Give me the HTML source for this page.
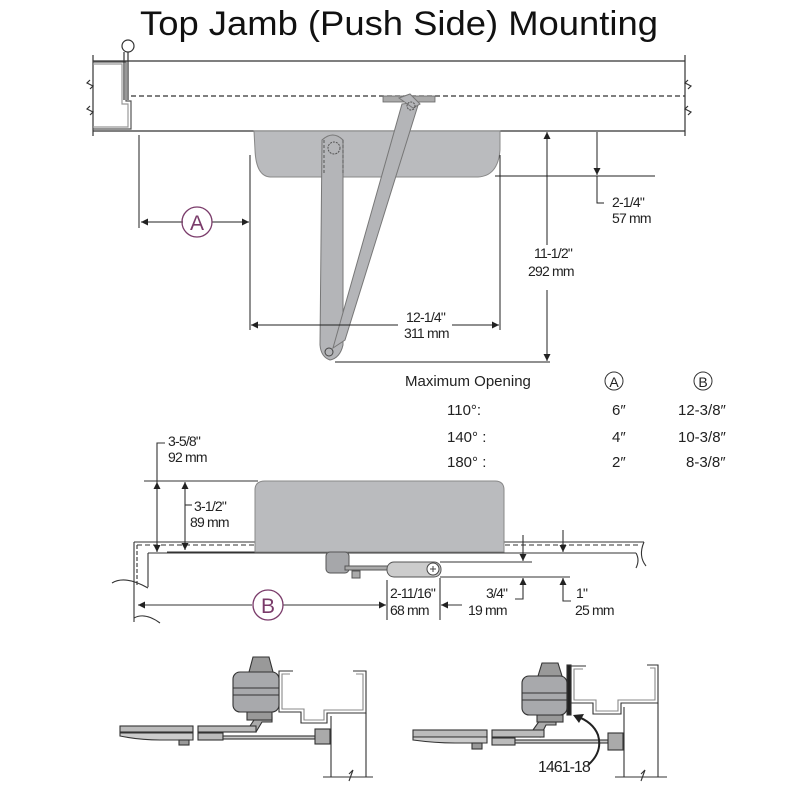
<!DOCTYPE html>
<html><head><meta charset="utf-8"><style>
html,body{margin:0;padding:0;background:#fff}
svg{display:block}
text{font-family:"Liberation Sans",sans-serif;fill:#222}
.d{font-size:14px;letter-spacing:-0.8px}
</style></head><body>
<svg width="800" height="800" viewBox="0 0 800 800" xmlns="http://www.w3.org/2000/svg">
<defs>
<marker id="ar" viewBox="0 0 10 10" refX="10" refY="5" markerWidth="10" markerHeight="7" orient="auto-start-reverse" markerUnits="userSpaceOnUse"><path d="M0,0 L10,5 L0,10 z" fill="#222"/></marker>
</defs>
<text x="140" y="35" font-size="34" textLength="518" lengthAdjust="spacingAndGlyphs" style="fill:#111">Top Jamb (Push Side) Mounting</text>

<!-- TOP VIEW frame -->
<g stroke="#333" stroke-width="1.2" fill="none">
<line x1="93" y1="61" x2="685" y2="61"/>
<line x1="93" y1="131" x2="685" y2="131"/>
<line x1="93" y1="55" x2="93" y2="136"/>
<line x1="685" y1="55" x2="685" y2="136"/>
<path d="M93,62 H126 V101 H131 V129 H93" stroke="#555"/>
<path d="M93,64 H122 V104 H128 V127 H93" stroke="#999"/>
<line x1="124" y1="52" x2="124" y2="100"/>
<line x1="128" y1="52" x2="128" y2="100"/>
<circle cx="128" cy="46" r="6" fill="#fff"/>
<line x1="131" y1="96" x2="685" y2="96" stroke-dasharray="5,3"/>
<path d="M90,80 l-3,3 l6,3 l-3,3" /><path d="M90,106 l-3,3 l6,3 l-3,3"/>
<path d="M688,80 l-3,3 l6,3 l-3,3" /><path d="M688,106 l-3,3 l6,3 l-3,3"/>
</g>
<!-- closer body -->
<path d="M254,131 H500 V150 Q498,176 478,177 H270 Q256,176 255,150 Z" fill="#babbbe" stroke="#888"/>
<rect x="383" y="96" width="52" height="6" fill="#aaa" stroke="#666" stroke-width="0.8"/>
<!-- arms -->
<path d="M322,140 Q333,130 343,140 V345 Q340,358 330,360 Q321,357 320,345 Z" fill="#b4b5b8" stroke="#777"/>
<path d="M402,104 L419,102 L345,340 L333,348 Z" fill="#b4b5b8" stroke="#777"/>
<path d="M399,98 L410,94 L420,104 L413,108 Z" fill="#b4b5b8" stroke="#777"/>
<circle cx="411" cy="106" r="4" fill="none" stroke="#555" stroke-dasharray="2,1"/>
<circle cx="334" cy="148" r="6" fill="none" stroke="#555" stroke-dasharray="2,1"/>
<line x1="324" y1="140" x2="324" y2="175" stroke="#555" stroke-dasharray="3,2"/>
<line x1="343" y1="140" x2="343" y2="175" stroke="#555" stroke-dasharray="3,2"/>
<circle cx="329" cy="352" r="4" fill="none" stroke="#444"/>
<!-- dims top -->
<g stroke="#222" stroke-width="1" fill="none">
<line x1="139" y1="135" x2="139" y2="228"/>
<line x1="250" y1="155" x2="250" y2="330"/>
<line x1="500" y1="155" x2="500" y2="330"/>
<line x1="141" y1="222" x2="183" y2="222" marker-start="url(#ar)"/>
<line x1="212" y1="222" x2="249" y2="222" marker-end="url(#ar)"/>
<line x1="251" y1="325" x2="398" y2="325" marker-start="url(#ar)"/>
<line x1="452" y1="325" x2="499" y2="325" marker-end="url(#ar)"/>
<line x1="547" y1="132" x2="547" y2="245" marker-start="url(#ar)"/>
<line x1="547" y1="290" x2="547" y2="361" marker-end="url(#ar)"/>
<line x1="335" y1="362" x2="550" y2="362"/>
<line x1="597" y1="132" x2="597" y2="175" marker-end="url(#ar)"/>
<line x1="495" y1="176" x2="655" y2="176"/>
<path d="M597,176 V203 H604"/>
</g>
<circle cx="197" cy="222" r="15" fill="none" stroke="#7a3b6a" stroke-width="1.3"/>
<text x="197" y="230" font-size="21" text-anchor="middle" style="fill:#7a3b6a">A</text>
<text class="d" x="406" y="322">12-1/4"</text><text class="d" x="404" y="338">311 mm</text>
<text class="d" x="534" y="258">11-1/2"</text><text class="d" x="528" y="276">292 mm</text>
<text class="d" x="612" y="207">2-1/4"</text><text class="d" x="612" y="223">57 mm</text>

<!-- table -->
<g font-size="15">
<text x="405" y="386">Maximum Opening</text>
<text x="447" y="415">110°:</text><text x="447" y="442">140° :</text><text x="447" y="467">180° :</text>
<text x="612" y="415">6″</text><text x="612" y="442">4″</text><text x="612" y="467">2″</text>
<text x="678" y="415">12-3/8″</text><text x="678" y="442">10-3/8″</text><text x="686" y="467">8-3/8″</text>
</g>
<circle cx="614" cy="381" r="9" fill="none" stroke="#333"/><text x="614" y="387" font-size="14" text-anchor="middle">A</text>
<circle cx="703" cy="381" r="9" fill="none" stroke="#333"/><text x="703" y="387" font-size="14" text-anchor="middle">B</text>

<!-- MIDDLE VIEW -->
<g stroke="#333" stroke-width="1.1" fill="none">
<path d="M134,542 H644"/>
<path d="M148,553 H636"/>
<line x1="137" y1="545" x2="640" y2="545" stroke-dasharray="5,3"/>
<path d="M134,542 V622"/><path d="M148,553 V587"/><path d="M137,545 V587" stroke-dasharray="4,2"/>
<path d="M644,542 Q638,556 646,566"/><path d="M636,553 Q640,560 636,568"/>
<path d="M112,583 Q125,575 148,588"/><path d="M134,618 Q145,612 160,623"/>
<path d="M144,481 H258"/>
<line x1="157" y1="482" x2="157" y2="552" marker-start="url(#ar)" marker-end="url(#ar)"/>
<line x1="185" y1="482" x2="185" y2="550" marker-start="url(#ar)" marker-end="url(#ar)"/>
<path d="M157,482 V443 H165"/><path d="M185,505 H192"/>
<path d="M167,552 H255"/>
<line x1="138" y1="605" x2="252" y2="605" marker-start="url(#ar)"/>
<line x1="283" y1="605" x2="386" y2="605" marker-end="url(#ar)"/>
<line x1="387" y1="580" x2="387" y2="620"/><line x1="440" y1="578" x2="440" y2="620"/>
<line x1="462" y1="605" x2="441" y2="605" marker-end="url(#ar)"/>
<line x1="440" y1="562" x2="532" y2="562"/>
<line x1="440" y1="577" x2="570" y2="577"/>
<line x1="523" y1="535" x2="523" y2="561" marker-end="url(#ar)"/>
<line x1="523" y1="596" x2="523" y2="578" marker-end="url(#ar)"/>
<path d="M523,596 V599 H515"/>
<line x1="563" y1="530" x2="563" y2="552" marker-end="url(#ar)"/>
<line x1="563" y1="597" x2="563" y2="578" marker-end="url(#ar)"/>
<path d="M563,597 V601 H571"/>
</g>
<path d="M255,552 V490 Q255,481 265,481 H495 Q504,481 504,490 V552 Z" fill="#babbbe" stroke="#888"/>
<rect x="326" y="552" width="23" height="21" rx="4" fill="#a6a7aa" stroke="#555"/>
<rect x="345" y="566" width="50" height="4" fill="#aaa" stroke="#555"/>
<rect x="352" y="571" width="8" height="7" fill="#aaa" stroke="#555"/>
<rect x="387" y="562" width="54" height="15" rx="7" fill="#ccc" stroke="#555"/>
<circle cx="433" cy="569" r="6" fill="#fff" stroke="#444"/>
<path d="M430,569 h6 M433,566 v6" stroke="#444"/>
<circle cx="268" cy="605" r="15" fill="none" stroke="#7a3b6a" stroke-width="1.3"/>
<text x="268" y="613" font-size="21" text-anchor="middle" style="fill:#7a3b6a">B</text>
<text class="d" x="168" y="446">3-5/8"</text><text class="d" x="168" y="462">92 mm</text>
<text class="d" x="194" y="511">3-1/2"</text><text class="d" x="190" y="527">89 mm</text>
<text class="d" x="390" y="598">2-11/16"</text><text class="d" x="390" y="615">68 mm</text>
<text class="d" x="486" y="598">3/4"</text><text class="d" x="468" y="615">19 mm</text>
<text class="d" x="576" y="598">1"</text><text class="d" x="575" y="615">25 mm</text>

<!-- BOTTOM LEFT -->
<g stroke="#333" stroke-width="1.1">
<path d="M293,671 H279 V712 H301 V723 H327 V713 H366 V671 H353" fill="none"/>
<path d="M290,674 H282 V709 H304 V720 H324 V710 H363 V674 H356" fill="none" stroke="#888"/>
<path d="M331,716 V777 M366,713 V777" fill="none"/>
<path d="M323,777 H373" fill="none"/><path d="M349,774 l4,-4 -4,11" fill="none"/>
<path d="M250,726 L256,717 H272 V722 H262 L256,732 Z" fill="#aaa"/>
<rect x="247" y="712" width="25" height="8" fill="#999"/>
<rect x="233" y="672" width="46" height="40" rx="7" fill="#a8a9ac"/>
<path d="M249,672 L253,657 H269 L273,672 Z" fill="#999"/>
<line x1="233" y1="688" x2="279" y2="688"/><line x1="233" y1="695" x2="279" y2="695"/>
<rect x="120" y="726" width="73" height="6" fill="#bbb"/><rect x="198" y="726" width="58" height="6" fill="#bbb"/>
<path d="M120,733 H193 V740 H160 Q140,740 120,736 Z" fill="#ccc"/>
<rect x="198" y="733" width="25" height="7" fill="#bbb"/>
<rect x="223" y="736" width="92" height="3" fill="#ccc"/>
<rect x="315" y="729" width="15" height="15" fill="#aaa"/>
<rect x="179" y="740" width="10" height="5" fill="#999"/>
</g>
<!-- BOTTOM RIGHT -->
<g stroke="#333" stroke-width="1.1">
<path d="M586,666 H571 V703 H593 V714 H621 V703 H658 V665 H647" fill="none"/>
<path d="M583,669 H574 V700 H596 V711 H618 V700 H655 V668 H650" fill="none" stroke="#888"/>
<path d="M624,707 V777 M658,703 V777" fill="none"/>
<path d="M615,777 H667" fill="none"/><path d="M641,774 l4,-4 -4,11" fill="none"/>
<path d="M533,730 L540,720 H556 V725 H546 L540,737 Z" fill="#aaa"/>
<rect x="537" y="715" width="26" height="7" fill="#999"/>
<rect x="522" y="676" width="45" height="39" rx="7" fill="#a8a9ac"/>
<path d="M538,676 L542,663 H558 L562,676 Z" fill="#999"/>
<line x1="522" y1="693" x2="567" y2="693"/><line x1="522" y1="700" x2="567" y2="700"/>
<rect x="567" y="665" width="4" height="50" fill="#222"/>
<rect x="413" y="730" width="74" height="7" fill="#bbb"/><rect x="492" y="730" width="52" height="7" fill="#bbb"/>
<path d="M413,737 H487 V743 H455 Q435,743 413,740 Z" fill="#ccc"/>
<rect x="492" y="738" width="23" height="7" fill="#bbb"/>
<rect x="515" y="740" width="93" height="3" fill="#ccc"/>
<rect x="608" y="733" width="15" height="17" fill="#aaa"/>
<rect x="472" y="743" width="10" height="6" fill="#999"/>
</g>
<path d="M588,765 Q603,752 598,735 Q593,722 576,716" fill="none" stroke="#222" stroke-width="2"/>
<path d="M573,715 L584,714 L579,723 Z" fill="#222"/>
<text x="538" y="772" font-size="16" letter-spacing="-1">1461-18</text>
</svg>
</body></html>
